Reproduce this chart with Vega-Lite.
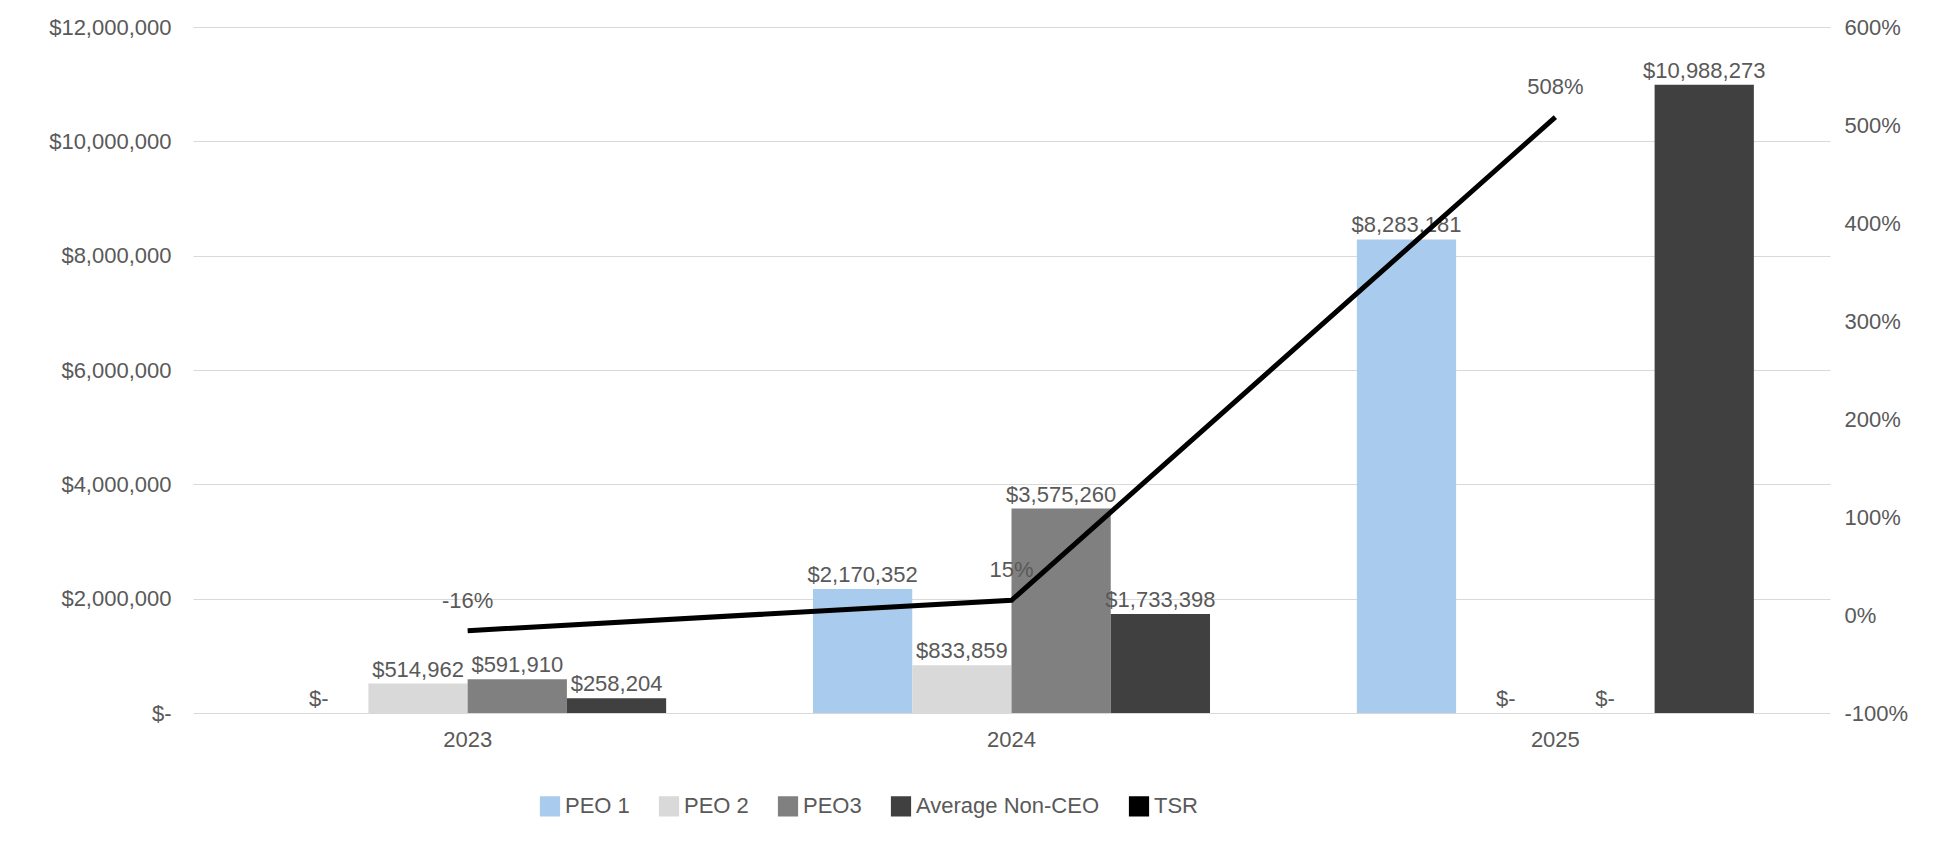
{
  "$schema": "https://vega.github.io/schema/vega-lite/v6.json",
  "width": 1637, "height": 686,
  "autosize": {"type": "none"},
  "padding": {"left": 193, "top": 27, "right": 122, "bottom": 136},
  "background": "white",
  "config": {"font": "Liberation Sans", "view": {"stroke": null},
    "axis": {"labelFont": "Liberation Sans", "labelColor": "#595959", "labelFontSize": 22, "domain": false, "ticks": false, "title": null, "labelOverlap": false}},
  "datasets": {
    "bars": [
      {"year": "2023", "series": "PEO 1", "value": 0},
      {"year": "2023", "series": "PEO 2", "value": 514962},
      {"year": "2023", "series": "PEO3", "value": 591910},
      {"year": "2023", "series": "Average Non-CEO", "value": 258204},
      {"year": "2024", "series": "PEO 1", "value": 2170352},
      {"year": "2024", "series": "PEO 2", "value": 833859},
      {"year": "2024", "series": "PEO3", "value": 3575260},
      {"year": "2024", "series": "Average Non-CEO", "value": 1733398},
      {"year": "2025", "series": "PEO 1", "value": 8283181},
      {"year": "2025", "series": "PEO 2", "value": 0},
      {"year": "2025", "series": "PEO3", "value": 0},
      {"year": "2025", "series": "Average Non-CEO", "value": 10988273}
    ],
    "tsr": [
      {"year": "2023", "tsr": -0.16, "s": "TSR"},
      {"year": "2024", "tsr": 0.15, "s": "TSR"},
      {"year": "2025", "tsr": 5.08, "s": "TSR"}
    ]
  },
  "layer": [
    {
      "data": {"name": "bars"},
      "encoding": {
        "x": {"field": "year", "type": "nominal", "scale": {"paddingInner": 0.27, "paddingOuter": 0.14},
              "axis": {"labelAngle": 0, "labelPadding": 16}},
        "xOffset": {"field": "series", "type": "nominal", "sort": ["PEO 1", "PEO 2", "PEO3", "Average Non-CEO"]},
        "y": {"field": "value", "type": "quantitative", "scale": {"domain": [0, 12000000]},
              "axis": {"values": [0,2000000,4000000,6000000,8000000,10000000,12000000], "gridColor": "#D9D9D9", "labelPadding": 22,
                       "labelExpr": "datum.value == 0 ? '$-' : '$' + format(datum.value, ',')"}}
      },
      "layer": [
        {"mark": {"type": "bar"},
         "encoding": {"color": {"field": "series", "type": "nominal",
            "scale": {"domain": ["PEO 1", "PEO 2", "PEO3", "Average Non-CEO", "TSR"], "range": ["#A9CBEE", "#D9D9D9", "#808080", "#404040", "#000000"]},
            "legend": {"orient": "none", "legendX": 346, "legendY": 768, "direction": "horizontal", "title": null, "labelFontSize": 22, "labelColor": "#595959", "labelLimit": 400, "symbolType": "square", "symbolSize": 350, "columnPadding": 26}}}},
        {"mark": {"type": "text", "dy": -14, "fontSize": 22, "color": "#595959",
                  "text": {"expr": "datum.value == 0 ? '$-' : '$' + format(datum.value, ',')"}}}
      ]
    },
    {
      "data": {"name": "tsr"},
      "encoding": {
        "x": {"field": "year", "type": "nominal"},
        "y": {"field": "tsr", "type": "quantitative", "scale": {"domain": [-1, 6]},
              "axis": {"orient": "right", "grid": false, "values": [-1,0,1,2,3,4,5,6], "labelPadding": 14,
                       "labelExpr": "replace(format(datum.value, '.0%'), '\u2212', '-')"}}
      },
      "layer": [
        {"mark": {"type": "line", "strokeWidth": 5, "color": "#000000"},
         "encoding": {"color": {"field": "s", "type": "nominal"}}},
        {"mark": {"type": "text", "dy": -30, "fontSize": 22, "color": "#595959",
                  "text": {"expr": "replace(format(datum.tsr, '.0%'), '\u2212', '-')"}}}
      ]
    }
  ],
  "resolve": {"scale": {"y": "independent"}}
}
